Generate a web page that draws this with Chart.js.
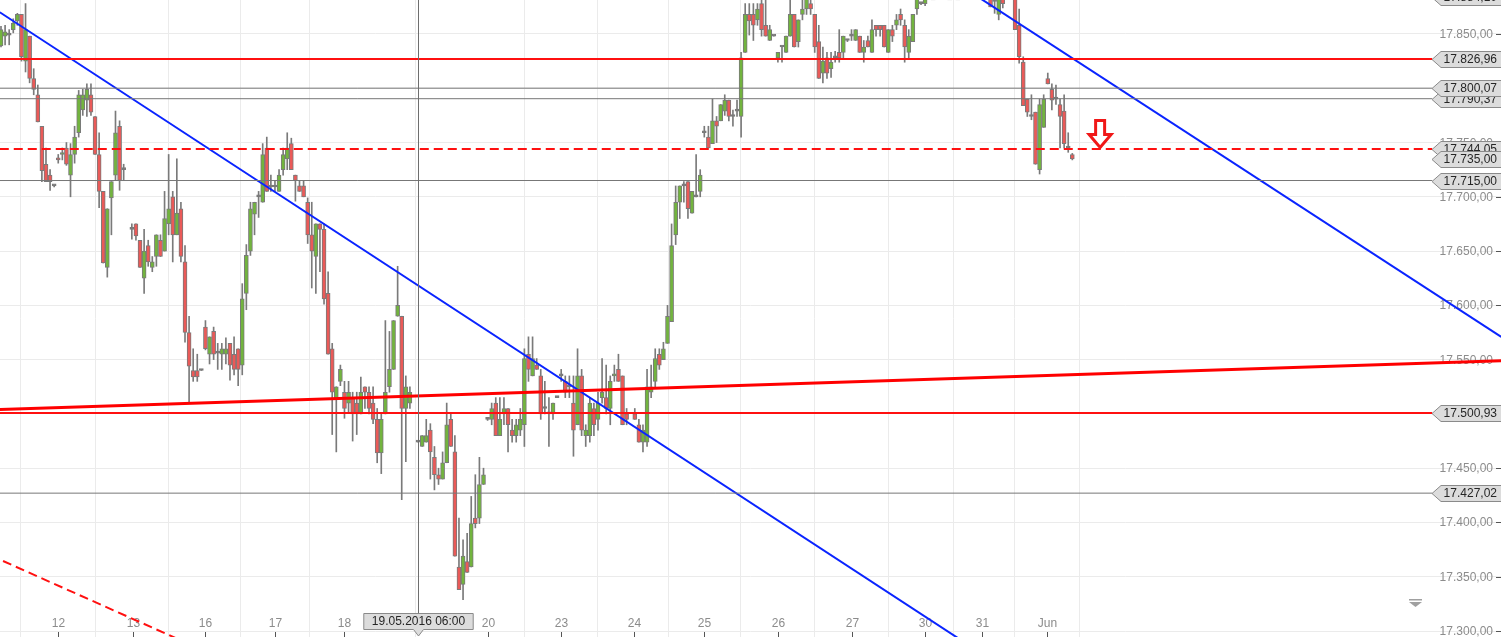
<!DOCTYPE html>
<html>
<head>
<meta charset="utf-8">
<script src="https://cdn.jsdelivr.net/npm/chart.js@4.4.0/dist/chart.umd.min.js"></script>
<style>
  html, body { margin: 0; padding: 0; background: #fff; }
  #wrap { width: 1501px; height: 637px; }
</style>
</head>
<body>
<div id="wrap"><canvas id="chart" width="1501" height="637"></canvas></div>
<script>
// hourly candles, left to right; null = no bar in that slot
const opens = [
  17839,17848,17849,17854,17862,17868,17825,17848,17809,17794,
  17765,17730,17720,17710,17735,17739,17745,17720,17739,17759,
  17780,17789,17794,17774,17739,17705,17635,17699,17720,17765,
  17725,null,17670,17675,17660,17625,17655,17635,17645,17660,
  17650,17675,17700,17665,17689,17640,17575,17540,17540,17540,
  17580,17555,17576,17556,17555,17555,17565,17555,17560,17545,
  17611,17650,17684,17700,17695,17745,17709,17709,17705,17725,
  17735,17749,17720,17710,17710,17695,17665,17645,17675,17670,
  17611,17560,17515,17530,17520,17510,17515,17510,17500,17525,
  17520,17510,17495,17464,17500,17525,17541,17590,17590,17505,
  17510,null,17474,17470,17474,17485,17460,17444,17440,17455,
  17495,17465,17359,17343,17364,17359,17404,17404,17435,17495,
  17495,17510,17480,17500,17505,17485,17480,17485,17490,17555,
  17535,17545,17535,17505,17500,17500,17515,17535,17530,17525,
  17510,17490,17535,17480,17480,17505,17495,17515,17515,17505,
  17535,17541,17535,17500,null,17500,17490,17474,17474,17520,
  17530,17555,17550,17565,17585,17665,17695,17710,17714,17685,
  17700,17705,17759,17755,17749,17770,17770,17779,17789,17774,
  17779,17774,17833,17868,17868,17863,17878,17858,17844,17848,
  17828,17838,17833,17848,17868,17843,17868,17873,17878,17868,
  17843,17814,17828,17818,17828,17833,17833,17844,17848,17844,
  17848,17833,17844,17833,17858,17858,17858,17833,17854,17858,
  17868,17858,17833,17843,17873,17878,17878,17886,17889,17890,
  17888,17891,17893,17894,17891,17892,17896,17893,17890,17894,
  17892,17888,17885,17880,17868,17888,17885,17890,17888,17858,
  17824,17790,17774,17778,17725,17764,17809,17799,17790,17785,
  17779,17745,17739
];
const highs = [
  17857,17858,17854,17864,17869,17868,17878,17848,17818,17803,
  17765,17745,17725,17711,17739,17745,17750,17749,17765,17798,
  17799,17804,17804,17774,17759,17705,17689,17714,17779,17770,
  17730,null,17675,17675,17660,17670,17660,17645,17665,17665,
  17705,17739,17705,17735,17695,17655,17590,17560,17555,17541,
  17586,17571,17580,17565,17565,17570,17565,17571,17560,17620,
  17656,17695,17695,17705,17749,17755,17720,17715,17725,17745,
  17759,17754,17720,17715,17715,17699,17695,17675,17675,17675,
  17631,17565,17525,17545,17530,17530,17520,17520,17534,17525,
  17525,17525,17505,17500,17586,17576,17586,17636,17590,17535,
  17525,null,17475,17480,17495,17491,17470,17450,17465,17510,
  17500,17480,17404,17384,17390,17424,17444,17460,17450,17496,
  17510,17515,17515,17515,17505,17495,17495,17505,17560,17571,
  17571,17551,17541,17530,17515,17510,17516,17541,17535,17535,
  17535,17560,17541,17490,17515,17510,17520,17551,17545,17535,
  17545,17555,17535,17505,null,17505,17495,17490,17541,17545,
  17560,17560,17566,17600,17675,17710,17710,17714,17714,17705,
  17739,17725,17765,17765,17790,17774,17785,17794,17789,17780,
  17789,17833,17878,17878,17878,17878,17883,17885,17858,17849,
  17833,17839,17848,17885,17868,17863,17885,17888,17886,17868,
  17858,17838,17833,17833,17834,17854,17848,17845,17854,17854,
  17848,17844,17848,17863,17858,17858,17858,17854,17858,17868,
  17873,17863,17854,17868,17888,17879,17890,17892,17895,17894,
  17893,17896,17898,17897,17895,17899,17900,17897,17896,17899,
  17896,17893,17890,17888,17890,17892,17895,17898,17892,17873,
  17829,17790,17794,17778,17790,17794,17814,17804,17803,17790,
  17794,17759,17740
];
const lows = [
  17838,17840,17840,17851,17858,17825,17815,17805,17794,17769,
  17714,17714,17706,17709,17731,17734,17729,17700,17731,17755,
  17775,17774,17775,17739,17690,17639,17626,17665,17715,17706,
  17715,null,17661,17660,17635,17611,17636,17631,17636,17645,
  17650,17665,17640,17665,17640,17566,17510,17530,17530,17540,
  17559,17546,17550,17541,17541,17546,17531,17536,17526,17536,
  17596,17646,17665,17681,17695,17705,17705,17705,17705,17720,
  17725,17725,17696,17705,17700,17657,17616,17611,17631,17601,
  17555,17481,17465,17526,17496,17501,17475,17481,17500,17505,
  17500,17491,17455,17445,17500,17520,17541,17590,17421,17456,
  17505,null,17474,17470,17474,17440,17430,17435,17440,17455,
  17470,17369,17338,17329,17354,17359,17395,17399,17435,17494,
  17490,17480,17480,17490,17465,17474,17474,17480,17470,17530,
  17535,17541,17495,17500,17470,17495,17515,17530,17515,17515,
  17461,17490,17480,17470,17474,17480,17485,17510,17500,17490,
  17530,17530,17490,17490,null,17495,17474,17465,17470,17515,
  17525,17541,17550,17565,17585,17656,17680,17695,17680,17685,
  17700,17700,17755,17745,17749,17750,17770,17775,17770,17765,
  17774,17755,17833,17849,17844,17858,17848,17848,17844,17848,
  17824,17824,17833,17848,17838,17838,17863,17868,17868,17833,
  17809,17805,17809,17810,17824,17824,17828,17843,17844,17844,
  17833,17824,17838,17833,17848,17848,17838,17833,17843,17854,
  17858,17824,17828,17843,17868,17877,17876,17882,17884,17885,
  17884,17887,17889,17889,17886,17888,17890,17887,17885,17888,
  17884,17882,17875,17869,17863,17874,17882,17883,17854,17823,
  17784,17774,17771,17730,17721,17764,17804,17780,17785,17745,
  17745,17741,17734
];
const closes = [
  17854,17852,17849,17860,17868,17829,17854,17809,17799,17769,
  17724,17714,17714,17710,17734,17740,17730,17739,17755,17794,
  17794,17799,17778,17739,17705,17639,17689,17714,17759,17715,
  17725,null,17670,17664,17635,17650,17640,17640,17665,17645,
  17680,17689,17665,17685,17645,17575,17544,17534,17534,17540,
  17560,17571,17555,17556,17560,17560,17545,17541,17541,17606,
  17646,17689,17695,17700,17739,17705,17709,17709,17720,17739,
  17745,17725,17715,17705,17700,17665,17650,17675,17670,17606,
  17555,17520,17525,17541,17505,17520,17500,17500,17520,17520,
  17505,17495,17464,17495,17520,17541,17586,17600,17505,17525,
  17520,null,17474,17480,17480,17465,17444,17440,17455,17490,
  17470,17369,17338,17369,17354,17399,17399,17435,17444,17495,
  17505,17480,17495,17505,17490,17480,17490,17495,17551,17541,
  17551,17541,17500,17505,17500,17510,17515,17535,17520,17525,
  17485,17535,17485,17485,17510,17490,17510,17520,17505,17530,
  17536,17530,17490,17495,null,17495,17474,17485,17525,17525,
  17551,17545,17560,17590,17655,17695,17710,17710,17689,17705,
  17700,17720,17759,17745,17770,17765,17785,17789,17774,17774,
  17779,17828,17868,17862,17858,17873,17854,17848,17854,17848,
  17833,17838,17848,17868,17838,17863,17873,17884,17873,17838,
  17809,17825,17814,17824,17828,17828,17848,17844,17848,17854,
  17833,17838,17838,17854,17854,17854,17838,17854,17848,17863,
  17863,17838,17848,17868,17884,17878,17886,17889,17890,17888,
  17891,17893,17894,17891,17892,17896,17893,17890,17894,17892,
  17888,17886,17875,17880,17885,17878,17890,17888,17854,17829,
  17784,17778,17774,17730,17785,17790,17804,17789,17790,17774,
  17749,17745,17735
];

// x axis: day starts, in bar units
const dayTicks = [13.9, 32.2, 49.9, 67, 83.9, 119, 137, 154.8, 171.9, 190, 208.1, 226, 240, 255.9];
const dayLabels = ["12", "13", "16", "17", "18", "20", "23", "24", "25", "26", "27", "30", "31", "Jun"];
const priceTicks = [17300, 17350, 17400, 17450, 17500, 17550, 17600, 17650, 17700, 17750, 17800, 17850];

// drawn levels and trend lines
const redLevels = [17826.96, 17500.93];
const greyLevels = [17800.07, 17790.37, 17715.00, 17427.02];
const dashLevel = 17744.05;
const lastPrice = 17735.00;
const topPrice = 17884.10;
const blueTrend1 = [[-0.3, 17870], [244, 17269]];
const blueTrend2 = [[234.5, 17895], [366.9, 17571]];
const redTrend = [[-0.3, 17504], [366.9, 17549]];
const redDashTrend = [[0.5, 17364.5], [43.8, 17291.7]];
const crossIndex = 102.06;
const crossLabel = "19.05.2016 06:00";
const signal = { x: 268.8, y: 17745.5 };

const GREEN = "#72b43e";
const RED = "#ea5a58";
const EDGE = "#7a7a7a";
const LEVEL_END = 350;

function fmt(v) {
    const s = v.toFixed(2).split(".");
    return s[0].replace(/\B(?=(\d{3})+(?!\d))/g, ".") + "," + s[1];
}

const wicks = [], bodies = [], bodyColors = [];
opens.forEach((o, i) => {
    if (o === null) return;
    wicks.push({ x: i, y: [lows[i], highs[i]] });
    bodies.push({ x: i, y: [o, closes[i]] });
    bodyColors.push(closes[i] > o ? GREEN : closes[i] < o ? RED : EDGE);
});

function lineSet(pts, color, width, dash) {
    return {
        type: "line",
        data: pts.map(p => ({ x: p[0], y: p[1] })),
        borderColor: color,
        borderWidth: width,
        borderDash: dash || [],
        pointRadius: 0,
        fill: false,
        tension: 0,
        order: 0
    };
}
function levelSet(v, color, width, dash) {
    return lineSet([[-0.3, v], [LEVEL_END, v]], color, width, dash);
}

const lines = [
    ...greyLevels.map(v => levelSet(v, "#777", 1)),
    ...redLevels.map(v => levelSet(v, "#ff1010", 2)),
    levelSet(dashLevel, "#ff1010", 2, [9, 5]),
    lineSet(redTrend, "#ff0000", 3),
    lineSet(blueTrend1, "#0a24ff", 2),
    lineSet(blueTrend2, "#0a24ff", 2),
    lineSet(redDashTrend, "#ff1010", 2, [9, 5])
];

function priceBox(ctx, yScale, v) {
    const py = Math.round(yScale.getPixelForValue(v)) + 0.5;
    ctx.beginPath();
    ctx.moveTo(1432, py);
    ctx.lineTo(1441, py - 8);
    ctx.lineTo(1503, py - 8);
    ctx.lineTo(1503, py + 8);
    ctx.lineTo(1441, py + 8);
    ctx.closePath();
    ctx.fillStyle = "#dcdcdc";
    ctx.fill();
    ctx.strokeStyle = "#8a8a8a";
    ctx.lineWidth = 1;
    ctx.stroke();
    ctx.fillStyle = "#262626";
    ctx.textAlign = "right";
    ctx.textBaseline = "middle";
    ctx.fillText(fmt(v), 1497, py + 0.5);
}

const overlay = {
    id: "overlay",
    beforeDatasetsDraw(chart) {
        const { ctx, scales: { x, y } } = chart;
        ctx.save();
        ctx.font = '12px "Liberation Sans", Arial, sans-serif';
        ctx.fillStyle = "#8c8c8c";
        ctx.strokeStyle = "#555";
        ctx.lineWidth = 1;
        ctx.textAlign = "right";
        ctx.textBaseline = "middle";
        priceTicks.forEach(v => {
            const py = Math.round(y.getPixelForValue(v)) + 0.5;
            ctx.fillText(fmt(v), 1493, py);
            ctx.beginPath();
            ctx.moveTo(1496, py);
            ctx.lineTo(1501, py);
            ctx.stroke();
        });
        ctx.textAlign = "center";
        dayTicks.forEach((v, k) => {
            const px = Math.round(x.getPixelForValue(v)) + 0.5;
            ctx.fillText(dayLabels[k], px, 624);
            ctx.beginPath();
            ctx.moveTo(px, 632);
            ctx.lineTo(px, 637);
            ctx.stroke();
        });
        ctx.restore();
    },
    afterDatasetsDraw(chart) {
        const { ctx, scales: { x, y } } = chart;
        ctx.save();
        ctx.font = '12px "Liberation Sans", Arial, sans-serif';

        // crosshair
        const cx = Math.round(x.getPixelForValue(crossIndex)) + 0.5;
        ctx.strokeStyle = "#6e6e6e";
        ctx.lineWidth = 1;
        ctx.beginPath();
        ctx.moveTo(cx, 0);
        ctx.lineTo(cx, 614);
        ctx.stroke();
        const tw = ctx.measureText(crossLabel).width + 16;
        ctx.beginPath();
        ctx.moveTo(cx - tw / 2, 613.5);
        ctx.lineTo(cx + tw / 2, 613.5);
        ctx.lineTo(cx + tw / 2, 629.5);
        ctx.lineTo(cx + 5, 629.5);
        ctx.lineTo(cx, 636);
        ctx.lineTo(cx - 5, 629.5);
        ctx.lineTo(cx - tw / 2, 629.5);
        ctx.closePath();
        ctx.fillStyle = "#dcdcdc";
        ctx.fill();
        ctx.strokeStyle = "#8a8a8a";
        ctx.stroke();
        ctx.fillStyle = "#262626";
        ctx.textAlign = "center";
        ctx.textBaseline = "middle";
        ctx.fillText(crossLabel, cx, 622);

        // price tags on the right
        [topPrice, redLevels[0], greyLevels[1], greyLevels[0], dashLevel, lastPrice,
         greyLevels[2], redLevels[1], greyLevels[3]].forEach(v => priceBox(ctx, y, v));

        // hollow red arrow
        const ax = x.getPixelForValue(signal.x), ay = y.getPixelForValue(signal.y);
        ctx.beginPath();
        ctx.moveTo(ax - 4.5, ay - 27);
        ctx.lineTo(ax + 4.5, ay - 27);
        ctx.lineTo(ax + 4.5, ay - 13);
        ctx.lineTo(ax + 11, ay - 13);
        ctx.lineTo(ax, ay);
        ctx.lineTo(ax - 11, ay - 13);
        ctx.lineTo(ax - 4.5, ay - 13);
        ctx.closePath();
        ctx.fillStyle = "#fff";
        ctx.fill();
        ctx.strokeStyle = "#f01818";
        ctx.lineWidth = 3;
        ctx.lineJoin = "miter";
        ctx.stroke();

        // small menu marker bottom right
        ctx.fillStyle = "#a0a0a0";
        ctx.fillRect(1409, 599, 13, 1.5);
        ctx.beginPath();
        ctx.moveTo(1409, 602);
        ctx.lineTo(1422, 602);
        ctx.lineTo(1415.5, 607);
        ctx.closePath();
        ctx.fill();
        ctx.restore();
    }
};

const ctx = document.getElementById("chart").getContext("2d");
new Chart(ctx, {
    type: "bar",
    data: {
        datasets: [
            {
                label: "wick",
                data: wicks,
                backgroundColor: EDGE,
                barThickness: 1,
                grouped: false,
                minBarLength: 1,
                order: 3
            },
            {
                label: "body",
                data: bodies,
                backgroundColor: bodyColors,
                borderColor: EDGE,
                borderWidth: 1,
                borderSkipped: false,
                barThickness: 4,
                grouped: false,
                minBarLength: 2,
                order: 2
            },
            ...lines
        ]
    },
    options: {
        responsive: false,
        animation: false,
        devicePixelRatio: 1,
        layout: { padding: 0 },
        plugins: { legend: { display: false }, tooltip: { enabled: false } },
        scales: {
            x: {
                type: "linear",
                min: -0.245,
                max: 366.84,
                offset: false,
                grid: { color: "#ebebeb", drawTicks: false },
                border: { display: false },
                ticks: { display: false },
                afterBuildTicks: s => { s.ticks = dayTicks.map(v => ({ value: v })); }
            },
            y: {
                type: "linear",
                position: "right",
                min: 17294.5,
                max: 17881.3,
                grid: { color: "#ebebeb", drawTicks: false },
                border: { display: false },
                ticks: { display: false },
                afterBuildTicks: s => { s.ticks = priceTicks.map(v => ({ value: v })); }
            }
        }
    },
    plugins: [overlay]
});
</script>
</body>
</html>
